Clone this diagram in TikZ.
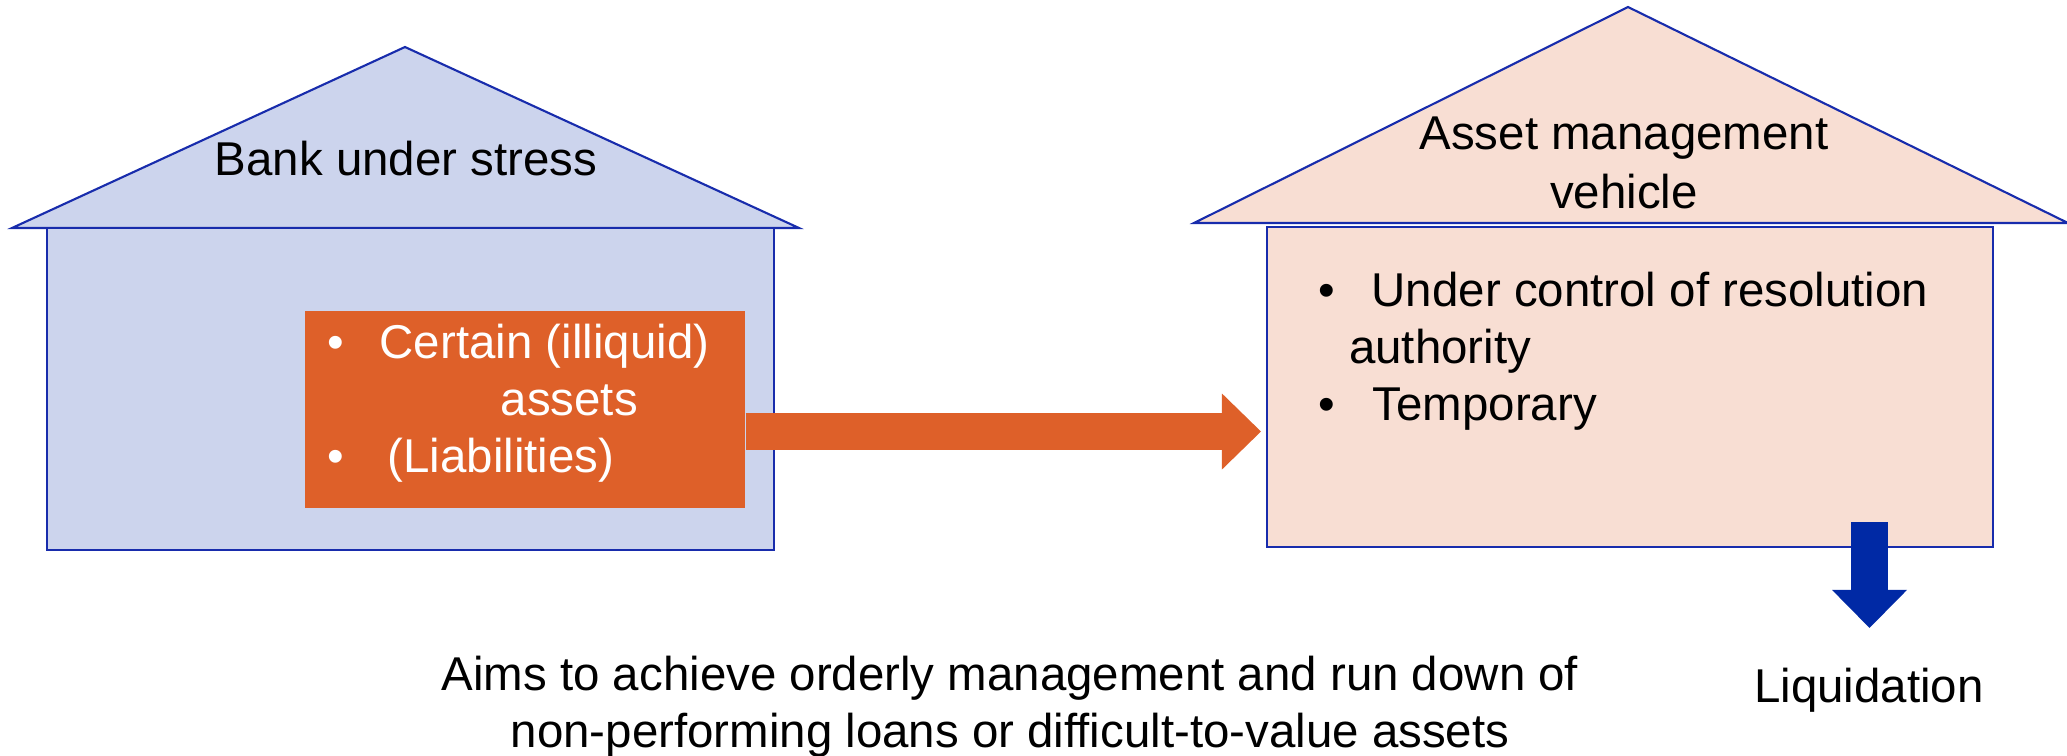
\documentclass[tikz,border=0pt]{standalone}
\usepackage{fontspec}
\setmainfont{Liberation Sans}
\usetikzlibrary{positioning,arrows.meta}
\usepackage{xcolor}

\definecolor{bankfill}{RGB}{204,212,237}
\definecolor{amvfill}{RGB}{248,222,211}
\definecolor{outline}{RGB}{24,44,172}
\definecolor{moveorange}{RGB}{222,96,41}
\definecolor{liqblue}{RGB}{0,41,165}

\tikzset{
  housebody/.style={draw=outline, line width=0.6pt, inner sep=0pt},
  roof/.style={color=outline, line width=0.6pt},
  txt/.style={anchor=base, inner sep=0pt, font=\fontsize{13.5}{16.4}\selectfont},
  fat/.style={line width=0.37cm}
}

\begin{document}
\begin{tikzpicture}
\useasboundingbox (0,0) rectangle (20.67,7.55);

% bank under stress
\filldraw[roof, fill=bankfill] (0.12,5.27) -- (7.99,5.27) -- (4.05,7.08) -- cycle;
\node[housebody, fill=bankfill, minimum width=7.27cm, minimum height=3.22cm] (bank) at (4.105,3.66) {};
\node[txt] (bankname) at (4.06,5.80) {Bank under stress};
\node[fill=moveorange, inner sep=0pt, minimum width=4.40cm, minimum height=1.97cm] (assets) at (5.25,3.455) {};
\node[txt, anchor=base west, text=white] (a1) at (3.27,3.97) {\makebox[0.52cm][l]{\textbullet}Certain (illiquid)};
\node[txt, anchor=base west, text=white] (a2) at (5.00,3.40) {assets};
\node[txt, anchor=base west, text=white] (a3) at (3.27,2.83) {\makebox[0.60cm][l]{\textbullet}(Liabilities)};

% asset management vehicle
\filldraw[roof, fill=amvfill] (11.94,5.32) -- (20.68,5.32) -- (16.28,7.48) -- cycle;
\node[housebody, fill=amvfill, minimum width=7.26cm, minimum height=3.20cm] (amv) at (16.30,3.68) {};
\node[txt] (amvname1) at (16.24,6.06) {Asset management};
\node[txt] (amvname2) at (16.24,5.47) {vehicle};
\node[txt, anchor=base west] (v1) at (13.18,4.49) {\makebox[0.53cm][l]{\textbullet}Under control of resolution};
\node[txt, anchor=base west] (v2) at (13.485,3.92) {authority};
\node[txt, anchor=base west] (v3) at (13.18,3.35) {\makebox[0.54cm][l]{\textbullet}Temporary};

\draw[fat, moveorange, -{Triangle[length=0.39cm, width=0.76cm, line width=0pt]}, shorten >=0.05cm]
  (assets.east |- 0,3.235) -- (amv.west |- 0,3.235);

% liquidation
\coordinate (drain) at (18.695,2.33);
\node[txt] (liq) at (18.69,0.53) {Liquidation};
\draw[fat, liqblue, -{Triangle[length=0.38cm, width=0.75cm, line width=0pt]}, shorten >=0.39cm]
  (drain) -- (drain |- liq.north);

\node[txt] (aim1) at (10.10,0.65) {Aims to achieve orderly management and run down of};
\node[txt] (aim2) at (10.10,0.08) {non-performing loans or difficult-to-value assets};
\end{tikzpicture}
\end{document}
